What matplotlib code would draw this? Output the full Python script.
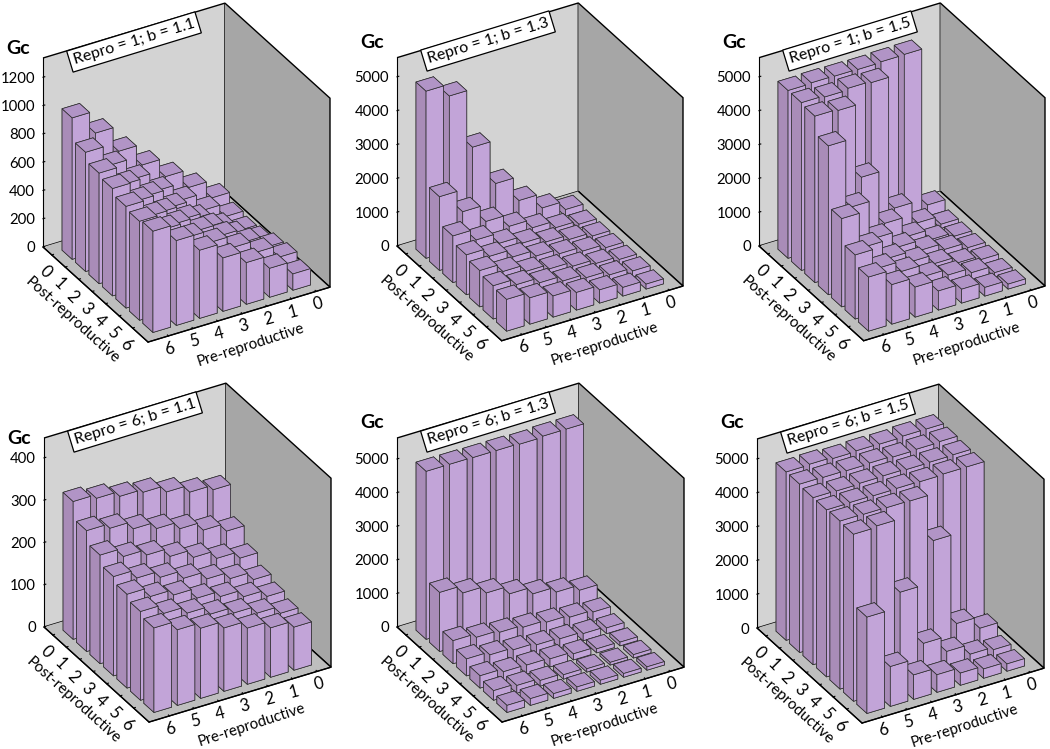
import matplotlib
matplotlib.use('Agg')
import matplotlib.pyplot as plt
from mpl_toolkits.mplot3d import proj3d

plt.rcParams['font.family'] = ['Lato', 'DejaVu Sans']

# Filas: post-reproductive 0..6, columnas: pre-reproductive 6..0
post_labels = ['0', '1', '2', '3', '4', '5', '6']
pre_labels = ['6', '5', '4', '3', '2', '1', '0']

gc_r1_b11 = [
    [1000, 843, 665, 518, 386, 260, 136],
    [843, 700, 553, 420, 302, 183, 90],
    [782, 650, 520, 389, 258, 150, 77],
    [759, 620, 490, 393, 285, 178, 94],
    [719, 600, 492, 396, 311, 215, 131],
    [700, 592, 485, 400, 316, 232, 148],
    [716, 600, 482, 378, 295, 205, 115],
]
gc_r1_b13 = [
    [4940, 4590, 2870, 1590, 880, 450, 195],
    [2180, 1530, 1035, 680, 430, 225, 120],
    [1380, 1055, 750, 545, 370, 235, 130],
    [1180, 930, 700, 520, 380, 250, 145],
    [1075, 840, 635, 500, 370, 245, 155],
    [985, 810, 655, 500, 390, 265, 175],
    [940, 780, 625, 520, 390, 255, 145],
]
gc_r1_b15 = [
    [4960, 4980, 4970, 4960, 4980, 4990, 330],
    [4960, 4920, 4970, 4930, 1015, 370, 120],
    [4920, 4880, 2700, 1130, 540, 235, 125],
    [4400, 2390, 1260, 790, 490, 300, 145],
    [2610, 1570, 1025, 720, 450, 265, 155],
    [1895, 1300, 995, 645, 470, 330, 125],
    [1600, 1170, 890, 565, 410, 255, 145],
]
gc_r6_b11 = [
    [326, 317, 305, 298, 282, 265, 254],
    [286, 275, 257, 241, 224, 204, 185],
    [257, 237, 224, 204, 185, 166, 150],
    [235, 215, 200, 181, 163, 147, 128],
    [222, 200, 187, 163, 150, 133, 117],
    [210, 189, 173, 154, 140, 123, 106],
    [200, 179, 166, 150, 133, 117, 102],
]
gc_r6_b13 = [
    [5000, 5000, 4990, 4990, 4970, 5000, 5000],
    [1760, 1535, 1325, 1090, 880, 720, 565],
    [685, 575, 515, 455, 395, 335, 280],
    [505, 415, 355, 295, 265, 210, 170],
    [365, 275, 265, 240, 180, 120, 110],
    [285, 230, 170, 130, 100, 80, 100],
    [210, 200, 140, 130, 120, 110, 100],
]
gc_r6_b15 = [
    [4980, 5000, 4960, 4980, 4970, 5000, 5000],
    [4980, 4970, 4960, 4980, 4950, 4970, 4990],
    [4940, 4930, 4950, 4960, 4940, 4950, 4960],
    [4940, 4950, 4940, 4950, 4940, 4960, 4960],
    [4970, 4960, 4950, 4940, 3560, 900, 550],
    [4940, 4980, 2810, 1090, 640, 350, 275],
    [2850, 1180, 725, 520, 360, 275, 215],
]

titulos = ['Repro = 1; b = 1.1', 'Repro = 1; b = 1.3', 'Repro = 1; b = 1.5',
           'Repro = 6; b = 1.1', 'Repro = 6; b = 1.3', 'Repro = 6; b = 1.5']
series = [gc_r1_b11, gc_r1_b13, gc_r1_b15, gc_r6_b11, gc_r6_b13, gc_r6_b15]
z_ticks = [[0, 200, 400, 600, 800, 1000, 1200],
           [0, 1000, 2000, 3000, 4000, 5000],
           [0, 1000, 2000, 3000, 4000, 5000],
           [0, 100, 200, 300, 400],
           [0, 1000, 2000, 3000, 4000, 5000],
           [0, 1000, 2000, 3000, 4000, 5000]]
z_tops = [1336, 5566, 5566, 447, 5624, 5588]
# Esquina izquierda del piso (en pixeles) y ancho de la caja
esquinas = [(43, 247), (397, 246), (759, 246), (44, 627), (397, 627), (757, 628)]
anchos = [287, 286, 286, 287, 287, 287]
gc_dy = [-199, -203, -203, -189, -204, -205]

W, H = 1050, 749
ANCHO_BARRA = 0.75
C_FRENTE, C_TECHO, C_LADO = '#C2A4D8', '#B194C6', '#A98CB8'


def a_fig(px, py):
    return px / W, 1 - py / H


def esquina_px(ax, x, y, z):
    xs, ys, _ = proj3d.proj_transform(x, y, z, ax.get_proj())
    return ax.transData.transform((xs, ys))


def grafica(idx):
    ax = fig.add_axes([0.1, 0.1, 400 / W, 400 / H], projection='3d', computed_zorder=False)
    ax.set_facecolor('none')
    ax.set_proj_type('ortho')
    ax.view_init(elev=31.5, azim=-30)
    datos = series[idx]
    orden = 0
    for i in range(7):
        for k in range(6, -1, -1):
            ax.bar3d(0.55 + i, 0.5 + k, 0, ANCHO_BARRA, ANCHO_BARRA, datos[i][k],
                     color=['#999999', C_TECHO, C_LADO, C_LADO, C_FRENTE, C_FRENTE],
                     shade=False, edgecolor='#2b2b2b', linewidth=0.5, zorder=10 + orden)
            orden += 1
    ax.set_xlim(0, 7.8, view_margin=0)
    ax.set_ylim(0, 7.8, view_margin=0)
    ax.set_zlim(0, z_tops[idx], view_margin=0)
    ax.grid(False)
    ax.xaxis.set_pane_color('#D3D3D3')
    ax.yaxis.set_pane_color('#A6A6A6')
    ax.zaxis.set_pane_color('#BEBEBE')
    for eje in [ax.xaxis, ax.yaxis, ax.zaxis]:
        eje.pane.set_edgecolor('black')
        eje.pane.set_linewidth(1.0)
        eje.line.set_color('black')
        eje._axinfo['tick']['inward_factor'] = 0
        eje._axinfo['tick']['outward_factor'] = 0.12
    ax.set_xticks([0.65 + i for i in range(7)])
    ax.set_xticklabels(post_labels)
    ax.set_yticks([0.875 + 1.055 * k for k in range(7)])
    ax.set_yticklabels(pre_labels)
    ax.set_zticks(z_ticks[idx])
    # Las etiquetas del eje z se ponen abajo con fig.text, el pad de 3D las corre en diagonal
    ax.set_zticklabels([''] * len(z_ticks[idx]))
    ax.tick_params(axis='x', labelsize=12, labelrotation=-45, pad=-3)
    ax.tick_params(axis='y', labelsize=12, labelrotation=15, pad=-6)
    ax.zaxis.set_ticks_position('lower')

    # Ajustar escala y posicion para que la caja caiga en su lugar
    zoom = 1.0
    ax.set_box_aspect((1, 1, 1.055), zoom=zoom)
    ax.apply_aspect()
    p0 = esquina_px(ax, 0, 0, 0)
    p1 = esquina_px(ax, 7.8, 7.8, 0)
    zoom = anchos[idx] / (p1[0] - p0[0])
    ax.set_box_aspect((1, 1, 1.055), zoom=zoom)
    ax.apply_aspect()
    p0 = esquina_px(ax, 0, 0, 0)
    px, py = esquinas[idx]
    dx = px - p0[0]
    dy = (H - py) - p0[1]
    # Alturas de las marcas z relativas a la esquina, antes de mover los ejes
    alturas = [esquina_px(ax, 0, 0, v)[1] - p0[1] for v in z_ticks[idx]]
    pos = ax.get_position()
    ax.set_position([pos.x0 + dx / W, pos.y0 + dy / H, pos.width, pos.height])

    for v, alto in zip(z_ticks[idx], alturas):
        fig.text(*a_fig(px - 8, py - alto), str(v), fontsize=10.7,
                 ha='right', va='center_baseline')

    fig.text(*a_fig(px - 25, py + gc_dy[idx]), 'Gc', fontsize=14, fontweight='bold',
             ha='center', va='center')
    fig.text(*a_fig(px + 91, py - 205), titulos[idx], fontsize=11.5, rotation=17,
             ha='center', va='center', rotation_mode='anchor',
             bbox=dict(boxstyle='square,pad=0.25', fc='white', ec='black', lw=0.9))
    fig.text(*a_fig(px + 29, py + 73), 'Post-reproductive', fontsize=11, rotation=-42,
             ha='center', va='center', rotation_mode='anchor')
    fig.text(*a_fig(px + 208, py + 98), 'Pre-reproductive', fontsize=10.8, rotation=18,
             ha='center', va='center', rotation_mode='anchor')


fig = plt.figure(figsize=(W / 100, H / 100), dpi=100)
for n in range(6):
    grafica(n)
fig.savefig('out.png', dpi=100)
